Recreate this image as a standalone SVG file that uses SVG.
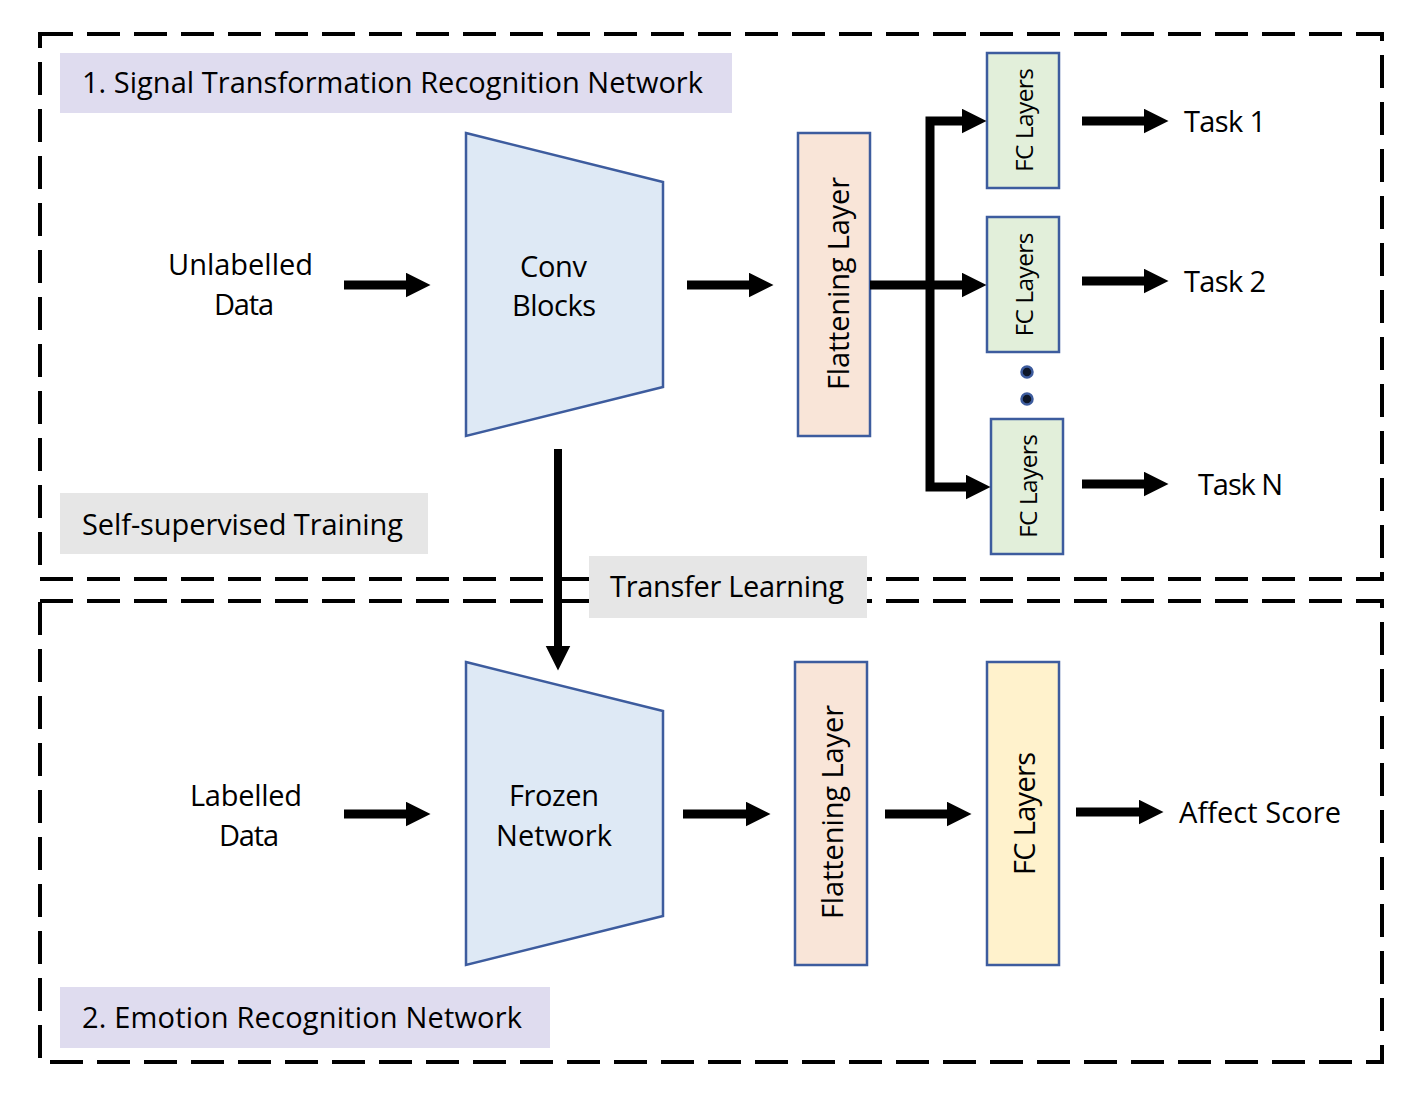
<svg xmlns="http://www.w3.org/2000/svg" width="1424" height="1102" viewBox="0 0 1424 1102">
<defs>
<style>
text{font-family:"Open Sans","Noto Sans","Liberation Sans",sans-serif;font-size:29px;fill:#000;}
.mid{text-anchor:middle;}
.fcs{font-size:24.5px;}
.frame{fill:none;stroke:#000;stroke-width:4;stroke-dasharray:33 14;}
.title{fill:#dfdcef;}
.note{fill:#e6e6e6;}
.trap{fill:#dee9f5;stroke:#3d5c9e;stroke-width:2.5;}
.flat{fill:#f9e5d8;stroke:#3d5c9e;stroke-width:2.5;}
.fcg{fill:#e2efda;stroke:#3d5c9e;stroke-width:2.5;}
.fcy{fill:#fff2cc;stroke:#3d5c9e;stroke-width:2.5;}
.dot{fill:#0d1628;stroke:#3d5c9e;stroke-width:2.5;}
.arr{fill:none;stroke:#000;stroke-width:9;marker-end:url(#ah);stroke-linejoin:miter;}
.arrv{fill:none;stroke:#000;stroke-width:8;marker-end:url(#ah);}
</style>
<marker id="ah" markerUnits="userSpaceOnUse" markerWidth="26" markerHeight="26" refX="0.5" refY="12.5" orient="auto" viewBox="0 0 26 26">
<path d="M0,0 L25,12.5 L0,25 Z" fill="#000"/>
</marker>
</defs>
<rect width="1424" height="1102" fill="#fff"/>

<g id="frame-1">
<rect class="frame" x="40" y="34" width="1342" height="545"/>
</g>
<g id="frame-2">
<rect class="frame" x="40" y="601" width="1342" height="461"/>
</g>

<g id="title-1">
<rect class="title" x="60" y="53" width="672" height="60"/>
<text x="82" y="93" textLength="621">1. Signal Transformation Recognition Network</text>
</g>
<g id="self-supervised">
<rect class="note" x="60" y="493" width="368" height="61"/>
<text x="82" y="535" textLength="321">Self-supervised Training</text>
</g>
<g id="transfer-learning">
<rect class="note" x="589" y="556" width="278" height="62"/>
<text x="610" y="597" textLength="234">Transfer Learning</text>
</g>
<g id="title-2">
<rect class="title" x="60" y="987" width="490" height="61"/>
<text x="82" y="1028" textLength="440">2. Emotion Recognition Network</text>
</g>

<g id="unlabelled-data">
<text class="mid" x="240.5" y="275" textLength="145">Unlabelled</text>
<text class="mid" x="244" y="315" textLength="60">Data</text>
</g>
<g id="conv-blocks">
<polygon class="trap" points="466,133 663,182 663,387 466,436"/>
<text class="mid" x="553.5" y="277" textLength="67">Conv</text>
<text class="mid" x="554" y="316" textLength="84">Blocks</text>
</g>
<g id="flattening-1">
<rect class="flat" x="798" y="133" width="72" height="303"/>
<text class="mid" transform="translate(849,283.5) rotate(-90)" textLength="213">Flattening Layer</text>
</g>
<g id="fc-1">
<rect class="fcg" x="987" y="53" width="72" height="135"/>
<text class="mid fcs" transform="translate(1033,120) rotate(-90)" textLength="104">FC Layers</text>
</g>
<g id="fc-2">
<rect class="fcg" x="987" y="217" width="72" height="135"/>
<text class="mid fcs" transform="translate(1033,284.5) rotate(-90)" textLength="104">FC Layers</text>
</g>
<g id="ellipsis">
<circle class="dot" cx="1027" cy="372" r="5.5"/>
<circle class="dot" cx="1027" cy="399" r="5.5"/>
</g>
<g id="fc-n">
<rect class="fcg" x="991" y="419" width="72" height="135"/>
<text class="mid fcs" transform="translate(1037,486) rotate(-90)" textLength="104">FC Layers</text>
</g>
<g id="task-1"><text x="1184" y="132" textLength="82">Task 1</text></g>
<g id="task-2"><text x="1184" y="292" textLength="82">Task 2</text></g>
<g id="task-n"><text x="1198" y="495" textLength="85">Task N</text></g>

<g id="labelled-data">
<text class="mid" x="246" y="806" textLength="112">Labelled</text>
<text class="mid" x="249" y="846" textLength="60">Data</text>
</g>
<g id="frozen-network">
<polygon class="trap" points="466,662 663,711 663,916 466,965"/>
<text class="mid" x="554" y="806" textLength="90">Frozen</text>
<text class="mid" x="554" y="846" textLength="116">Network</text>
</g>
<g id="flattening-2">
<rect class="flat" x="795" y="662" width="72" height="303"/>
<text class="mid" transform="translate(843,812) rotate(-90)" textLength="214">Flattening Layer</text>
</g>
<g id="fc-bottom">
<rect class="fcy" x="987" y="662" width="72" height="303"/>
<text class="mid" transform="translate(1035,813.5) rotate(-90)" textLength="123">FC Layers</text>
</g>
<g id="affect-score"><text x="1179" y="823" textLength="162">Affect Score</text></g>

<g id="connectors">
<path class="arr" d="M344,285 H406"/>
<path class="arr" d="M687,285 H749"/>
<path class="arr" d="M870,285 H962"/>
<path class="arr" d="M930,285 V121 H962"/>
<path class="arr" d="M930,285 V487 H966"/>
<path class="arr" d="M1082,121 H1144"/>
<path class="arr" d="M1082,281 H1144"/>
<path class="arr" d="M1082,484 H1144"/>
<path class="arrv" d="M558,449 V646"/>
<path class="arr" d="M344,814 H406"/>
<path class="arr" d="M683,814 H746"/>
<path class="arr" d="M885,814 H947"/>
<path class="arr" d="M1076,812 H1139"/>
</g>
</svg>
